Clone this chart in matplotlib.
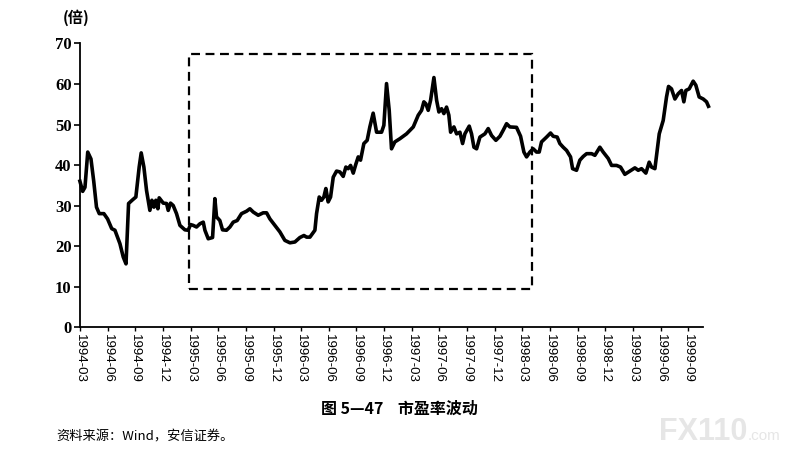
import matplotlib
matplotlib.use("Agg")
import matplotlib.pyplot as plt
from matplotlib.patches import Rectangle

# months since 1994-03 and P/E values
months = [0.0, 0.3, 0.55, 0.85, 1.2, 1.5, 1.8, 2.1, 2.6, 3.0, 3.45, 3.8, 4.34, 4.7, 5.0,
          5.28, 5.71, 6.07, 6.43, 6.65, 6.94, 7.23, 7.59, 7.81, 8.03, 8.24, 8.46, 8.6,
          9.04, 9.4, 9.58, 9.83, 10.12, 10.48, 10.85, 11.39, 11.75, 12.0, 12.29, 12.65,
          13.02, 13.38, 13.56, 13.92, 14.39, 14.64, 14.82, 15.18, 15.47, 15.9, 16.27,
          16.63, 17.06, 17.53, 18.08, 18.44, 18.8, 19.34, 19.88, 20.25, 20.61, 21.15,
          21.69, 22.23, 22.78, 23.32, 23.86, 24.3, 24.59, 24.95, 25.49, 25.67, 25.96,
          26.21, 26.46, 26.68, 26.93, 27.19, 27.48, 27.84, 28.2, 28.56, 28.85, 29.1,
          29.36, 29.65, 29.93, 30.19, 30.44, 30.8, 31.16, 31.45, 31.81, 32.18, 32.72,
          32.97, 33.26, 33.55, 33.8, 34.16, 34.71, 35.43, 36.16, 36.7, 37.06, 37.31,
          37.53, 37.78, 38.04, 38.4, 38.69, 38.94, 39.23, 39.48, 39.77, 40.02, 40.21,
          40.57, 40.86, 41.22, 41.51, 41.76, 42.23, 42.48, 42.74, 43.03, 43.39, 43.93,
          44.29, 44.65, 45.12, 45.56, 45.92, 46.28, 46.64, 47.36, 47.8, 48.16, 48.45,
          48.81, 49.17, 49.53, 49.82, 50.07, 50.62, 51.05, 51.34, 51.77, 52.06, 52.42,
          52.79, 53.22, 53.44, 53.87, 54.23, 54.59, 54.96, 55.5, 55.86, 56.4, 56.76,
          57.31, 57.67, 58.21, 58.64, 59.11, 59.65, 60.2, 60.56, 60.92, 61.39, 61.75,
          62.0, 62.37, 62.62, 62.84, 63.27, 63.63, 63.85, 64.17, 64.54, 64.9, 65.26,
          65.51, 65.73, 66.09, 66.52, 66.81, 67.17, 67.61, 67.97, 68.18]
pe = [36.0, 33.5, 34.5, 43.2, 41.5, 36.0, 29.6, 28.0, 28.0, 26.7, 24.3, 23.9, 20.6, 17.3, 15.6,
      30.5, 31.4, 32.1, 39.5, 43.0, 39.5, 33.7, 28.8, 31.3, 29.6, 31.3, 29.2, 31.9,
      30.6, 30.5, 28.8, 30.6, 30.0, 28.0, 25.1, 24.0, 23.9, 25.3, 25.1, 24.7,
      25.5, 25.9, 23.9, 21.8, 22.1, 31.7, 27.2, 26.3, 24.0, 23.9, 24.7,
      25.9, 26.3, 28.0, 28.6, 29.2, 28.4, 27.6, 28.2, 28.2, 26.7, 25.1,
      23.5, 21.4, 20.8, 21.0, 22.1, 22.6, 22.2, 22.2, 23.9, 28.0, 32.1,
      31.3, 32.1, 34.2, 30.9, 32.1, 37.0, 38.5, 38.3, 37.2, 39.5, 39.1,
      39.9, 38.0, 40.2, 42.0, 41.2, 45.3, 46.1, 49.4, 52.8, 48.1, 48.1,
      49.8, 60.1, 53.5, 44.0, 45.7, 46.5, 47.7, 49.4, 52.3, 53.5, 55.6,
      55.1, 53.5, 56.0, 61.6, 56.0, 53.1, 53.9, 52.7, 54.3, 52.3, 48.1,
      49.4, 47.7, 48.1, 45.3, 47.7, 49.6, 47.7, 44.4, 44.0, 46.9, 47.7,
      49.0, 47.3, 46.1, 47.1, 48.6, 50.2, 49.4, 49.3, 47.1, 43.2, 42.0,
      43.2, 44.0, 43.2, 43.2, 45.7, 46.9, 47.9, 47.1, 46.9, 45.3, 44.4,
      43.6, 42.0, 39.1, 38.7, 41.2, 42.1, 42.8, 42.8, 42.4, 44.4, 43.2,
      41.6, 39.9, 39.9, 39.5, 37.7, 38.5, 39.3, 38.7, 39.1, 38.0, 40.7,
      39.5, 39.1, 43.6, 47.7, 51.0, 56.8, 59.4, 58.8, 56.3, 57.6, 58.4,
      55.6, 58.4, 58.8, 60.7, 59.7, 56.8, 56.3, 55.6, 54.5]

tick_labels = ["1994-03", "1994-06", "1994-09", "1994-12", "1995-03", "1995-06",
               "1995-09", "1995-12", "1996-03", "1996-06", "1996-09", "1996-12",
               "1997-03", "1997-06", "1997-09", "1997-12", "1998-03", "1998-06",
               "1998-09", "1998-12", "1999-03", "1999-06", "1999-09"]
tick_months = [3 * i for i in range(len(tick_labels))]

# highlighted period (months since 1994-03, P/E)
box_start, box_end = 11.8, 49.0
box_low, box_high = 9.3, 67.5

cjk = ["Noto Sans CJK SC", "DejaVu Sans"]

fig = plt.figure(figsize=(7.99, 4.53), dpi=100)
ax = fig.add_axes([0.100, 0.278, 0.780, 0.626])

ax.plot(months, pe, color="black", lw=2.6, solid_joinstyle="round", clip_on=False)
ax.add_patch(Rectangle((box_start, box_low), box_end - box_start, box_high - box_low,
                       fill=False, ec="black", lw=1.6, ls=(0, (4, 2.5))))

ax.set_xlim(0, 67.6)
ax.set_ylim(0, 70)
ax.set_yticks(range(0, 71, 10))
ax.set_xticks(tick_months)
ax.set_xticklabels(tick_labels, rotation=-90, family="Liberation Sans", fontsize=9.5)
for lab in ax.get_yticklabels():
    lab.set_family("Liberation Serif")
    lab.set_fontweight("bold")
    lab.set_fontsize(12)
ax.tick_params(axis="y", direction="out", length=4, width=1.2, pad=2)
ax.tick_params(axis="x", direction="out", length=3, width=1.0, pad=2)
for s in ["top", "right"]:
    ax.spines[s].set_visible(False)
for s in ["left", "bottom"]:
    ax.spines[s].set_linewidth(1.3)

fig.text(0.095, 0.96, "(倍)", family=cjk, fontsize=11, fontweight="bold",
         ha="center", va="center")
fig.text(0.5, 0.097, "图 5—47    市盈率波动", family=cjk, fontsize=11.5,
         fontweight="bold", ha="center", va="center")
fig.text(0.071, 0.035, "资料来源：Wind，安信证券。", family=cjk, fontsize=9.5,
         ha="left", va="center")
# faint watermark
fig.text(0.935, 0.029, "FX110", family="Liberation Sans", fontsize=22,
         fontweight="bold", color="#e6e6e6", ha="right", va="baseline")
fig.text(0.936, 0.029, ".com", family="Liberation Sans", fontsize=11,
         color="#e6e6e6", ha="left", va="baseline")

fig.savefig("out.png", dpi=100)
